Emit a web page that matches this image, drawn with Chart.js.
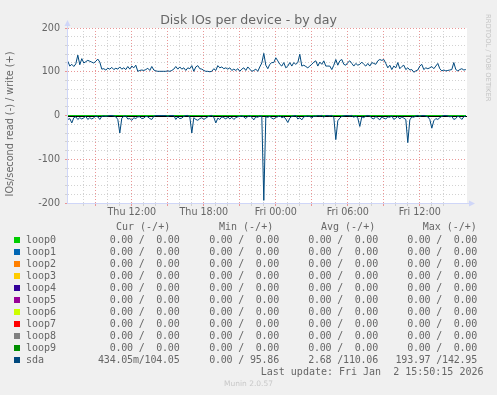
<!DOCTYPE html>
<html><head><meta charset="utf-8">
<script src="https://cdn.jsdelivr.net/npm/chart.js@4"></script>
<style>
html,body{margin:0;padding:0;background:#f0f0f0;width:497px;height:395px;overflow:hidden;}
#wrap{position:relative;width:497px;height:395px;}
#c{position:absolute;left:0;top:0;}
#title{position:absolute;left:0;top:12px;width:497px;text-align:center;font-family:"DejaVu Sans";font-size:12.6px;line-height:15px;color:#666;white-space:pre;}
#ytitle{position:absolute;left:-90px;top:118px;width:200px;text-align:center;font-family:"DejaVu Sans";font-size:9.7px;line-height:12px;color:#666;transform:rotate(-90deg);white-space:pre;}
#rrd{position:absolute;left:484px;top:14px;writing-mode:vertical-rl;font-family:"DejaVu Sans";font-size:6.8px;color:#c4c4c4;white-space:pre;}
.t{position:absolute;white-space:pre;font-family:"DejaVu Sans Mono";font-size:10px;line-height:12px;color:#666;}
.v{letter-spacing:-0.2px;}
.sq{position:absolute;width:6px;height:6px;}
#munin{position:absolute;left:0;width:497px;text-align:center;top:379px;font-family:"DejaVu Sans";font-size:7.5px;line-height:9px;color:#c8c8c8;}
</style></head><body>
<div id="wrap">
<canvas id="c" width="497" height="225" style="width:497px;height:225px"></canvas>
<div id="title">Disk IOs per device - by day</div>
<div id="ytitle">IOs/second read (-) / write (+)</div>
<div id="rrd">RRDTOOL / TOBI OETIKER</div>
<div id="legend"></div>
<div id="munin">Munin 2.0.57</div>
</div>
<script>
// ---- data (hours since Thu 00:00; one sample every 10 minutes from Thu 06:40) ----
const startHour = 6 + 40/60;
const stepHours = 10/60;

const sdaWrite = [
124,113,117,112,118,138,116,130,120,123,
126,124,122,120,124,129,122,106,107,104,
108,106,110,105,108,106,111,106,109,105,
112,106,113,109,115,101,103,104,103,105,
108,103,112,104,102,101,101,101,101,101,
102,101,103,106,112,106,111,106,109,103,
109,107,114,101,111,114,107,106,103,101,
101,100,101,107,103,114,109,111,107,109,
106,109,103,106,103,107,101,106,109,103,
111,106,101,103,106,101,111,120,142,115,
107,117,121,121,132,125,117,113,121,109,
113,121,113,121,117,121,140,113,115,112,
109,113,117,122,125,113,122,117,125,113,
113,113,105,115,128,115,125,128,117,115,
121,125,119,113,119,115,117,122,117,113,
119,113,121,119,117,125,128,126,128,119,
109,115,105,113,109,121,107,112,115,105,
109,104,105,99,102,104,113,117,105,109,
107,109,112,107,113,119,107,102,104,102,
103,104,105,121,105,102,105,107,104,105];

const sdaRead = [
9,7,17,5,3,9,5,8,5,2,
9,5,8,5,1,3,9,2,1,2,
1,0,0,1,3,9,40,6,2,1,
8,7,11,5,7,3,3,7,6,2,
3,7,9,2,0,0,0,0,0,0,
2,0,0,0,9,3,7,6,2,0,
0,3,40,5,9,11,7,5,9,6,
3,1,0,4,17,6,9,3,5,8,
3,8,4,9,5,3,2,1,3,7,
2,1,4,10,3,4,1,2,194,3,
4,2,6,8,4,3,1,5,3,8,
16,6,2,1,0,8,5,10,3,2,
1,2,6,1,2,0,1,0,4,0,
0,1,0,4,55,12,6,2,1,0,
0,1,0,4,1,6,25,3,5,1,
0,1,6,8,2,6,10,3,6,8,
3,4,1,9,6,2,8,3,6,9,
62,10,3,4,1,0,2,0,0,1,
3,9,29,12,7,9,5,2,0,0,
1,3,2,9,7,1,4,9,3,1];

const loopNames = ['loop0','loop1','loop2','loop3','loop4','loop5','loop6','loop7','loop8','loop9'];
const loopValues = [0,0,0,0,0,0,0,0,0,0]; // every loop device reads 0 throughout

const legendNames = ['loop0','loop1','loop2','loop3','loop4','loop5','loop6','loop7','loop8','loop9','sda'];
const legendCur = ['  0.00 /  0.00','  0.00 /  0.00','  0.00 /  0.00','  0.00 /  0.00','  0.00 /  0.00','  0.00 /  0.00','  0.00 /  0.00','  0.00 /  0.00','  0.00 /  0.00','  0.00 /  0.00','434.05m/104.05'];
const legendMin = ['  0.00 /  0.00','  0.00 /  0.00','  0.00 /  0.00','  0.00 /  0.00','  0.00 /  0.00','  0.00 /  0.00','  0.00 /  0.00','  0.00 /  0.00','  0.00 /  0.00','  0.00 /  0.00','  0.00 / 95.86'];
const legendAvg = ['  0.00 /  0.00','  0.00 /  0.00','  0.00 /  0.00','  0.00 /  0.00','  0.00 /  0.00','  0.00 /  0.00','  0.00 /  0.00','  0.00 /  0.00','  0.00 /  0.00','  0.00 /  0.00','  2.68 /110.06'];
const legendMax = ['  0.00 /  0.00','  0.00 /  0.00','  0.00 /  0.00','  0.00 /  0.00','  0.00 /  0.00','  0.00 /  0.00','  0.00 /  0.00','  0.00 /  0.00','  0.00 /  0.00','  0.00 /  0.00','193.97 /142.95'];
const legendHeaders = ['Cur (-/+)','Min (-/+)','Avg (-/+)','Max (-/+)'];
const lastUpdate = 'Last update: Fri Jan  2 15:50:15 2026';

const xTickHours = [12, 18, 24, 30, 36];
const xTickLabels = ['Thu 12:00','Thu 18:00','Fri 00:00','Fri 06:00','Fri 12:00'];
const yTickValues = [-200, -100, 0, 100, 200];

// ---- styles ----
const seriesColors = ['#00CC00','#0066B3','#FF8000','#FFCC00','#330099','#990099','#CCFF00','#FF0000','#808080','#008F00','#00487D'];
const axisColor = '#CFD6F8';
const majorGrid = 'rgb(234,150,150)';
const minorGrid = 'rgb(210,210,210)';
const fontColor = '#666666';

// ---- build datasets ----
const pts = (arr, sign) => arr.map((v, i) => ({x: startHour + i * stepHours, y: sign * v}));
const datasets = [];
datasets.push({label:'sda', data: pts(sdaWrite, 1), borderColor: seriesColors[10], borderWidth: 1, pointRadius: 0, tension: 0});
datasets.push({label:'sda', data: pts(sdaRead, -1), borderColor: seriesColors[10], borderWidth: 1, pointRadius: 0, tension: 0});
loopNames.forEach((n, k) => {
  datasets.push({label: n, data: pts(sdaWrite.map(() => loopValues[k]), 1), borderColor: seriesColors[k], borderWidth: 1, pointRadius: 0});
});

const tH = 225, aLeft = 67, aRight = 467, aTop = 28, aBottom = 203;

const plugin = {
  id: 'munin',
  beforeDraw(chart) {
    const {ctx, chartArea: a} = chart;
    ctx.save(); ctx.fillStyle = '#ffffff';
    ctx.fillRect(a.left, a.top, a.right - a.left, a.bottom - a.top);
    ctx.restore();
  },
  beforeDatasetDraw(chart, args) {
    if (args.index !== 1) return;
    const {ctx, chartArea: a} = chart;
    const y0 = Math.round(chart.scales.y.getPixelForValue(0)) + 0.5;
    ctx.save(); ctx.strokeStyle = '#000'; ctx.lineWidth = 1;
    ctx.beginPath(); ctx.moveTo(a.left, y0); ctx.lineTo(a.right, y0); ctx.stroke();
    ctx.restore();
  },
  afterDraw(chart) {
    const {ctx, chartArea: a} = chart;
    ctx.save();
    ctx.strokeStyle = axisColor; ctx.fillStyle = axisColor; ctx.lineWidth = 1;
    const xl = a.left + 0.5, yb = a.bottom + 0.5;
    ctx.beginPath(); ctx.moveTo(xl, a.bottom); ctx.lineTo(xl, a.top - 4); ctx.stroke();
    ctx.beginPath(); ctx.moveTo(a.left, yb); ctx.lineTo(a.right + 4, yb); ctx.stroke();
    ctx.beginPath(); ctx.moveTo(xl - 3, a.top - 2); ctx.lineTo(xl + 3, a.top - 2); ctx.lineTo(xl, a.top - 8); ctx.closePath(); ctx.fill();
    ctx.beginPath(); ctx.moveTo(a.right + 2, yb - 3); ctx.lineTo(a.right + 2, yb + 3); ctx.lineTo(a.right + 8, yb); ctx.closePath(); ctx.fill();
    ctx.restore();
  }
};

new Chart(document.getElementById('c'), {
  type: 'line',
  data: { datasets },
  plugins: [plugin],
  options: {
    responsive: false, animation: false, devicePixelRatio: 1,
    layout: { padding: { top: aTop, right: 497 - aRight, left: 0, bottom: 0 } },
    plugins: { legend: { display: false }, tooltip: { enabled: false }, title: { display: false } },
    elements: { line: { borderJoinStyle: 'miter' } },
    scales: {
      x: {
        type: 'linear', min: startHour - 4/60, max: startHour - 4/60 + 400/12,
        afterFit(s) { s.height = tH - aBottom; },
        ticks: {
          stepSize: 1, autoSkip: false, maxRotation: 0, minRotation: 0, padding: 1,
          color: fontColor, font: { family: 'DejaVu Sans', size: 9.6 },
          callback(v) { const k = xTickHours.indexOf(v); return k >= 0 ? xTickLabels[k] : ''; }
        },
        grid: {
          color(c) { const v = c.tick && c.tick.value; if (!Number.isInteger(v)) return 'rgba(0,0,0,0)'; return v % 3 === 0 ? majorGrid : minorGrid; },
          tickLength: 3, lineWidth: 1
        },
        border: { display: true, color: axisColor, width: 1, dash: [1, 2] }
      },
      y: {
        type: 'linear', min: -200, max: 200,
        afterFit(s) { s.width = aLeft; },
        ticks: {
          stepSize: 20, autoSkip: false, padding: 5,
          color: fontColor, font: { family: 'DejaVu Sans', size: 9.6 },
          callback(v) { return yTickValues.includes(v) ? String(v) : ''; }
        },
        grid: {
          color(c) { const v = c.tick && c.tick.value; return v % 100 === 0 ? majorGrid : minorGrid; },
          tickLength: 2, lineWidth: 1
        },
        border: { display: true, color: axisColor, width: 1, dash: [1, 2] }
      }
    }
  }
});

// ---- legend (text) ----
const lg = document.getElementById('legend');
function addText(txt, x, cy, align, extraClass) {
  const d = document.createElement('div');
  d.className = 't' + (extraClass ? ' ' + extraClass : '');
  d.textContent = txt;
  d.style.top = (cy - 6) + 'px';
  if (align === 'right') { d.style.right = (497 - x) + 'px'; d.style.textAlign = 'right'; }
  else d.style.left = x + 'px';
  lg.appendChild(d);
}
const headerLefts = [116, 219, 321, 422.7];
legendHeaders.forEach((h, k) => addText(h, headerLefts[k], 227.3, 'left'));
const colRights = [179.5, 279, 378, 477];
legendNames.forEach((n, r) => {
  const cy = 239.7 + r * 12;
  const sq = document.createElement('div');
  sq.className = 'sq'; sq.style.left = '14px'; sq.style.top = (cy - 3) + 'px'; sq.style.background = seriesColors[r];
  lg.appendChild(sq);
  addText(n, 26, cy, 'left');
  addText(legendCur[r], colRights[0], cy, 'right', 'v');
  addText(legendMin[r], colRights[1], cy, 'right', 'v');
  addText(legendAvg[r], colRights[2], cy, 'right', 'v');
  addText(legendMax[r], colRights[3], cy, 'right', 'v');
});
addText(lastUpdate, 483.5, 372, 'right');
</script>
</body></html>
